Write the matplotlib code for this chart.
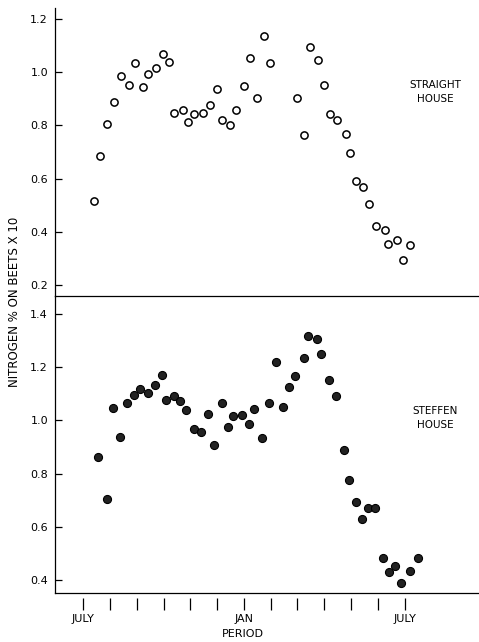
import numpy as np
import matplotlib.pyplot as plt

# months after the first July
straight_x = [0.38, 0.63, 0.89, 1.16, 1.40, 1.69, 1.92, 2.21, 2.42, 2.70, 2.96, 3.20,
              3.40, 3.71, 3.91, 4.13, 4.46, 4.73, 5.00, 5.18, 5.47, 5.72, 6.00, 6.23,
              6.47, 6.74, 6.96, 7.97, 8.24, 8.46, 8.75, 9.00, 9.20, 9.49, 9.80, 9.98,
              10.20, 10.45, 10.67, 10.95, 11.26, 11.40, 11.71, 11.96, 12.22]
straight_y = [0.515, 0.684, 0.805, 0.890, 0.986, 0.952, 1.036, 0.943, 0.994, 1.016, 1.067, 1.037,
              0.847, 0.857, 0.813, 0.843, 0.847, 0.877, 0.936, 0.820, 0.803, 0.857, 0.948, 1.055,
              0.904, 1.135, 1.036, 0.904, 0.766, 1.096, 1.046, 0.954, 0.842, 0.822, 0.769, 0.696,
              0.593, 0.568, 0.505, 0.422, 0.407, 0.355, 0.368, 0.293, 0.350]

steffen_x = [0.55, 0.88, 1.10, 1.37, 1.62, 1.89, 2.13, 2.40, 2.66, 2.92, 3.10, 3.39,
             3.61, 3.85, 4.15, 4.41, 4.64, 4.88, 5.17, 5.41, 5.60, 5.91, 6.19, 6.38,
             6.66, 6.92, 7.19, 7.45, 7.68, 7.90, 8.23, 8.38, 8.72, 8.89, 9.16, 9.45,
             9.73, 9.93, 10.19, 10.40, 10.63, 10.90, 11.18, 11.42, 11.66, 11.87, 12.19, 12.49]
steffen_y = [0.864, 0.705, 1.048, 0.936, 1.065, 1.097, 1.119, 1.104, 1.132, 1.171, 1.077, 1.092,
             1.072, 1.039, 0.969, 0.955, 1.025, 0.906, 1.067, 0.974, 1.018, 1.019, 0.985, 1.043,
             0.935, 1.064, 1.218, 1.049, 1.126, 1.169, 1.236, 1.317, 1.306, 1.251, 1.151, 1.093,
             0.889, 0.775, 0.694, 0.631, 0.669, 0.669, 0.484, 0.430, 0.453, 0.389, 0.434, 0.484]

month_ticks = np.arange(0, 13)
month_labels = ['JULY', '', '', '', '', '', 'JAN', '', '', '', '', '', 'JULY']

plt.rcParams['font.family'] = 'DejaVu Sans'
fig = plt.figure(figsize=(4.79, 6.42), dpi=100)

ax2 = fig.add_axes([0.1148, 0.0768, 0.885, 0.4621])
ax1 = fig.add_axes([0.1148, 0.5389, 0.885, 0.448])

ax1.plot(straight_x, straight_y, 'o', mfc='white', mec='black', ms=5.2, mew=1.1, clip_on=False)
ax2.plot(steffen_x, steffen_y, 'o', mfc='#222222', mec='black', ms=5.8, mew=0.8, clip_on=False)

xlim = (-1.06, 14.78)
for ax in (ax1, ax2):
    ax.patch.set_visible(False)
    ax.set_xlim(*xlim)
    ax.spines['top'].set_visible(False)
    ax.spines['right'].set_visible(False)
    ax.spines['left'].set_linewidth(0.9)
    ax.spines['bottom'].set_linewidth(0.9)
    ax.set_xticks([])
    ax.tick_params(axis='y', direction='in', length=5, width=0.9, labelsize=8, pad=5)

ax1.set_ylim(0.159, 1.24)
ax1.set_yticks([0.2, 0.4, 0.6, 0.8, 1.0, 1.2])
ax1.set_yticklabels(['0.2', '0.4', '0.6', '0.8', '1.0', '1.2'])
ax2.set_ylim(0.352, 1.468)
ax2.set_yticks([0.4, 0.6, 0.8, 1.0, 1.2, 1.4])
ax2.set_yticklabels(['0.4', '0.6', '0.8', '1.0', '1.2', '1.4'])

# detached month ticks below the lower axis
sec = ax2.secondary_xaxis(-0.017)
sec.spines['bottom'].set_visible(False)
sec.set_xticks(month_ticks)
sec.set_xticklabels(month_labels)
sec.tick_params(axis='x', direction='out', length=8.5, width=0.9, labelsize=8, pad=3)

ax1.text(13.15, 0.925, 'STRAIGHT\nHOUSE', ha='center', va='center', fontsize=7.5, linespacing=1.5)
ax2.text(13.15, 1.01, 'STEFFEN\nHOUSE', ha='center', va='center', fontsize=7.5, linespacing=1.5)

fig.text(15 / 479, 1 - 302 / 642, 'NITROGEN % ON BEETS X 10', rotation=90,
         ha='center', va='center', fontsize=8.5)
fig.text((243 / 479), 1 - 634 / 642, 'PERIOD', ha='center', va='center', fontsize=8)

fig.savefig('out.png', dpi=100)
